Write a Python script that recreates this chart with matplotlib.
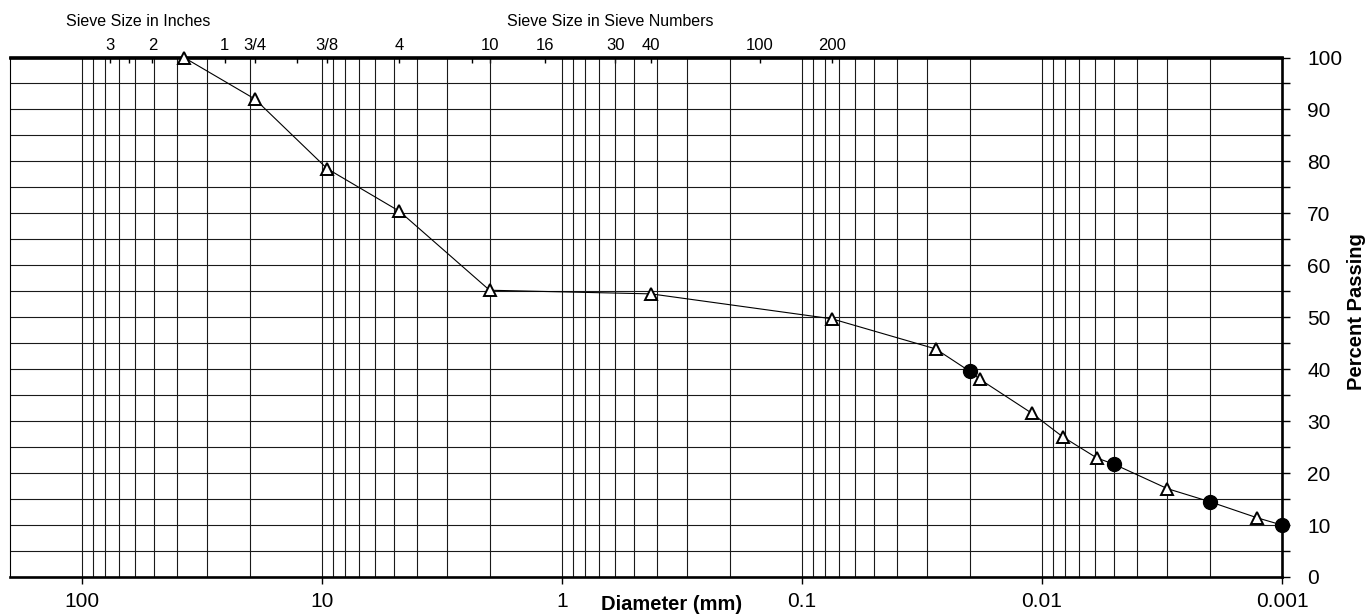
import matplotlib
matplotlib.use("Agg")
import matplotlib.pyplot as plt
import numpy as np
from matplotlib.ticker import FixedLocator, MultipleLocator, NullLocator

plt.rcParams['font.family'] = ['Liberation Sans', 'DejaVu Sans']

# sieve analysis (open triangles)
sieve_mm = [37.5, 19.0, 9.5, 4.75, 2.0, 0.425, 0.075]
sieve_pass = [100.0, 92.0, 78.6, 70.4, 55.2, 54.5, 49.7]

# hydrometer readings (open triangles)
hyd_mm = [0.0277, 0.0182, 0.0110, 0.0082, 0.0059, 0.0030, 0.00127]
hyd_pass = [43.9, 38.1, 31.5, 27.0, 22.9, 17.0, 11.4]

# selected diameters (filled circles)
dot_mm = [0.02, 0.005, 0.002, 0.001]
dot_pass = [39.6, 21.7, 14.5, 10.0]

# bottom axis
diam_ticks = [100, 10, 1, 0.1, 0.01, 0.001]
diam_labels = ['100', '10', '1', '0.1', '0.01', '0.001']

# top axis: sieve openings in mm and their labels
top_mm = [76.2, 63.5, 50.8, 38.1, 25.4, 19.05, 12.7, 9.525, 4.75, 2.36, 2.0,
          1.18, 0.6, 0.425, 0.15, 0.075]
top_labels = ['3', '', '2', '', '1', '3/4', '', '3/8', '4', '', '10',
              '16', '30', '40', '100', '200']

W, H = 1369, 614
fig = plt.figure(figsize=(W / 100, H / 100), dpi=100)
ax = fig.add_axes([9.5 / W, 1 - 577 / H, (1282 - 9.5) / W, (577 - 57.5) / H])

ax.set_xscale('log')
ax.set_xlim(200, 0.001)
ax.set_ylim(0, 100)

# connecting line through all points, largest diameter first
all_mm = np.array(sieve_mm + hyd_mm + dot_mm)
all_pass = np.array(sieve_pass + hyd_pass + dot_pass)
order = np.argsort(-all_mm)
ax.plot(all_mm[order], all_pass[order], color='black', lw=0.8, zorder=3, clip_on=False)

ax.plot(sieve_mm + hyd_mm, sieve_pass + hyd_pass, ls='none', marker='^', ms=9,
        mfc='white', mec='black', mew=1.4, zorder=4, clip_on=False)
ax.plot(dot_mm, dot_pass, ls='none', marker='o', ms=10, color='black',
        zorder=5, clip_on=False)

# x ticks / grid
ax.xaxis.set_major_locator(FixedLocator(diam_ticks))
ax.set_xticklabels(diam_labels)
minors = [m * 10.0 ** k for k in range(-3, 2) for m in range(2, 10)] + [100]
ax.xaxis.set_minor_locator(FixedLocator(minors))
ax.tick_params(axis='x', which='major', direction='out', length=5, width=1,
               labelsize=15, pad=6)
ax.tick_params(axis='x', which='minor', length=0)

# y ticks on the right
ax.yaxis.tick_right()
ax.yaxis.set_major_locator(MultipleLocator(10))
ax.yaxis.set_minor_locator(MultipleLocator(5))
ax.tick_params(axis='y', which='both', direction='out', length=6, width=1,
               labelsize=15, pad=12, left=False, right=True)

ax.grid(which='both', axis='both', color='#1a1a1a', lw=0.8)
ax.set_axisbelow(True)

for s in ['top', 'bottom', 'right']:
    ax.spines[s].set_linewidth(1.9)
ax.spines['left'].set_linewidth(0.8)

# top sieve axis
sec = ax.secondary_xaxis('top')
sec.xaxis.set_major_locator(FixedLocator(top_mm))
sec.set_xticklabels(top_labels)
sec.xaxis.set_minor_locator(NullLocator())
sec.tick_params(axis='x', direction='in', length=4, width=1, labelsize=12, pad=3)
sec.spines['top'].set_linewidth(1.9)

fig.text(138 / W, 1 - 21 / H, 'Sieve Size in Inches', ha='center', va='center', fontsize=11.5)
fig.text(610 / W, 1 - 21 / H, 'Sieve Size in Sieve Numbers', ha='center', va='center', fontsize=11.5)
fig.text(672 / W, 1 - 604 / H, 'Diameter (mm)', ha='center', va='center',
         fontsize=14.5, fontweight='bold')
fig.text(1357 / W, 1 - 312 / H, 'Percent Passing', ha='center', va='center',
         rotation=90, fontsize=14.5, fontweight='bold')

fig.savefig('out.png', dpi=100)
